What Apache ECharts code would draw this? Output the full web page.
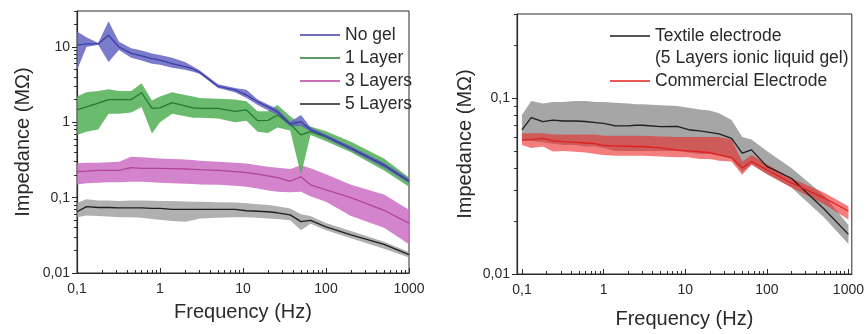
<!DOCTYPE html>
<html>
<head>
<meta charset="utf-8">
<script src="https://cdn.jsdelivr.net/npm/echarts@6/dist/echarts.min.js"></script>
<style>
  html, body { margin: 0; padding: 0; background: #fff; }
  #chart { width: 867px; height: 334px; }
</style>
</head>
<body>
<div id="chart"></div>
<script>
// frequencies (Hz), shared by every curve
const freq = [0.1, 0.13, 0.18, 0.24, 0.32, 0.45, 0.6, 0.8, 1, 1.4, 2, 2.5, 3, 5, 8, 11, 15, 20, 26, 37, 50, 65, 100, 200, 500, 1000];

// left panel: impedance (MOhm) mean / upper / lower
const noGel = [10.6, 11, 11, 14.3, 10, 8.2, 7.6, 7, 6.7, 6, 5.5, 5.1, 4.6, 3.0, 2.7, 2.3, 1.87, 1.6, 1.38, 0.95, 1.02, 0.8, 0.65, 0.45, 0.27, 0.165];
const noGelHi = [16, 13.5, 11.3, 22, 11.7, 9.6, 9, 8.2, 7.8, 7.2, 6.3, 5.5, 4.9, 3.2, 2.85, 2.7, 2.0, 1.72, 1.5, 1.02, 1.25, 0.86, 0.69, 0.48, 0.29, 0.18];
const noGelLo = [4.9, 10, 10.7, 6.3, 9.1, 7.2, 6.6, 6.0, 5.8, 5.3, 5.0, 4.7, 4.4, 2.85, 2.5, 2.1, 1.7, 1.45, 1.25, 0.88, 0.9, 0.75, 0.61, 0.42, 0.25, 0.155];

const layer1 = [1.46, 1.6, 1.8, 2.0, 2.0, 2.0, 2.47, 1.53, 1.55, 1.82, 1.65, 1.55, 1.53, 1.53, 1.4, 1.46, 1.05, 1.06, 1.25, 0.95, 0.68, 0.75, 0.64, 0.45, 0.27, 0.165];
const layer1Hi = [2.2, 2.5, 2.6, 2.75, 2.6, 2.6, 3.3, 1.95, 2.2, 2.5, 2.3, 2.2, 2.1, 2.05, 2.0, 1.9, 1.4, 1.4, 1.7, 1.2, 0.95, 0.88, 0.76, 0.55, 0.33, 0.185];
const layer1Lo = [0.68, 0.75, 0.8, 1.3, 1.3, 1.35, 1.6, 0.71, 1.0, 1.3, 1.2, 1.15, 1.15, 1.12, 1.0, 1.05, 0.75, 0.72, 0.85, 0.78, 0.2, 0.68, 0.56, 0.4, 0.23, 0.14];

const layer3 = [0.222, 0.225, 0.23, 0.23, 0.23, 0.25, 0.245, 0.245, 0.245, 0.243, 0.24, 0.238, 0.235, 0.23, 0.222, 0.215, 0.205, 0.195, 0.185, 0.165, 0.19, 0.148, 0.127, 0.1, 0.068, 0.046];
const layer3Hi = [0.286, 0.29, 0.29, 0.295, 0.3, 0.35, 0.345, 0.335, 0.33, 0.325, 0.32, 0.315, 0.31, 0.3, 0.29, 0.285, 0.27, 0.258, 0.25, 0.24, 0.27, 0.245, 0.205, 0.148, 0.11, 0.069];
const layer3Lo = [0.15, 0.155, 0.158, 0.16, 0.16, 0.163, 0.163, 0.16, 0.158, 0.155, 0.153, 0.152, 0.15, 0.148, 0.144, 0.14, 0.132, 0.124, 0.12, 0.118, 0.12, 0.104, 0.088, 0.057, 0.04, 0.024];

const layer5 = [0.065, 0.076, 0.074, 0.074, 0.073, 0.073, 0.073, 0.072, 0.072, 0.07, 0.07, 0.07, 0.07, 0.07, 0.07, 0.067, 0.066, 0.065, 0.063, 0.059, 0.048, 0.05, 0.041, 0.032, 0.024, 0.0175];
const layer5Hi = [0.085, 0.095, 0.092, 0.092, 0.09, 0.092, 0.092, 0.091, 0.09, 0.09, 0.089, 0.088, 0.088, 0.087, 0.086, 0.084, 0.082, 0.08, 0.077, 0.072, 0.06, 0.057, 0.046, 0.036, 0.026, 0.019];
const layer5Lo = [0.055, 0.058, 0.057, 0.056, 0.055, 0.055, 0.054, 0.052, 0.051, 0.049, 0.048, 0.05, 0.053, 0.054, 0.055, 0.055, 0.054, 0.053, 0.052, 0.05, 0.037, 0.045, 0.037, 0.029, 0.021, 0.016];

// right panel
const textile = [0.0658, 0.0773, 0.0733, 0.0748, 0.074, 0.074, 0.0735, 0.0725, 0.0717, 0.0695, 0.0695, 0.07, 0.07, 0.0687, 0.069, 0.066, 0.065, 0.0638, 0.0625, 0.059, 0.0486, 0.0507, 0.0409, 0.035, 0.0235, 0.0168];
const textileHi = [0.08, 0.096, 0.093, 0.095, 0.095, 0.096, 0.096, 0.095, 0.095, 0.094, 0.093, 0.092, 0.092, 0.091, 0.09, 0.088, 0.086, 0.085, 0.082, 0.075, 0.06, 0.058, 0.05, 0.04, 0.028, 0.019];
const textileLo = [0.058, 0.057, 0.056, 0.055, 0.054, 0.054, 0.053, 0.053, 0.052, 0.05, 0.05, 0.05, 0.05, 0.05, 0.05, 0.049, 0.048, 0.048, 0.047, 0.045, 0.038, 0.042, 0.037, 0.031, 0.021, 0.0148];

const commercial = [0.0577, 0.058, 0.059, 0.057, 0.0565, 0.056, 0.0555, 0.055, 0.0537, 0.0535, 0.0532, 0.053, 0.053, 0.052, 0.0505, 0.05, 0.0495, 0.049, 0.0475, 0.046, 0.04, 0.0436, 0.0391, 0.0329, 0.0271, 0.0228];
const commercialHi = [0.063, 0.063, 0.063, 0.062, 0.062, 0.062, 0.062, 0.062, 0.061, 0.061, 0.061, 0.061, 0.061, 0.0605, 0.06, 0.06, 0.06, 0.06, 0.06, 0.058, 0.0436, 0.0475, 0.042, 0.035, 0.029, 0.0243];
const commercialLo = [0.054, 0.052, 0.053, 0.0497, 0.05, 0.0495, 0.049, 0.048, 0.0475, 0.047, 0.047, 0.047, 0.047, 0.0465, 0.046, 0.046, 0.045, 0.045, 0.044, 0.0436, 0.0366, 0.0417, 0.037, 0.031, 0.025, 0.0204];

const leftLegend = ['No gel', '1 Layer', '3 Layers', '5 Layers'];
const rightLegend = ['Textile electrode', 'Commercial Electrode'];

// minor tick positions, in log10 units (for the hidden linear tick axes)
function minorLogs(fromExp, toExp) {
  const out = [];
  for (let e = fromExp; e < toExp; e++) {
    for (let m = 2; m <= 9; m++) out.push(e + Math.log10(m));
  }
  return out;
}

const FONT = "'Liberation Sans', Arial, sans-serif";
const INK = '#2a2a2a';

const chart = echarts.init(document.getElementById('chart'));

function pts(ys) {
  return freq.map((f, i) => [f, ys[i]]);
}

function band(name, lo, hi, fill, idx) {
  return {
    type: 'custom',
    name: name,
    xAxisIndex: idx,
    yAxisIndex: idx,
    silent: true,
    data: freq.map((f, i) => [f, lo[i], hi[i]]),
    encode: { x: 0, y: [1, 2] },
    renderItem: function (params, api) {
      if (params.dataIndex !== 0) return null;
      const poly = [];
      for (let i = 0; i < freq.length; i++) poly.push(api.coord([freq[i], hi[i]]));
      for (let i = freq.length - 1; i >= 0; i--) poly.push(api.coord([freq[i], lo[i]]));
      return { type: 'polygon', shape: { points: poly }, style: { fill: fill } };
    }
  };
}

function line(name, ys, color, idx) {
  return {
    type: 'line',
    name: name,
    xAxisIndex: idx,
    yAxisIndex: idx,
    data: pts(ys),
    symbol: 'none',
    lineStyle: { color: color, width: 1.3 },
    itemStyle: { color: color },
    silent: true
  };
}

const comma = v => String(+v.toPrecision(6)).replace('.', ',');

function logX(grid, min, max) {
  return {
    type: 'log', logBase: 10, gridIndex: grid, min: min, max: max,
    name: 'Frequency (Hz)', nameLocation: 'middle', nameGap: grid === 0 ? 29 : 35,
    nameTextStyle: { fontFamily: FONT, fontSize: 20, color: INK },
    axisLine: { onZero: false, lineStyle: { color: INK, width: 1.2 } },
    axisTick: { inside: true, length: 5, lineStyle: { color: INK } },
    axisLabel: { fontFamily: FONT, fontSize: 14, color: INK, margin: 9,
      showMinLabel: min === 0.1, showMaxLabel: max === 1000, formatter: comma },
    splitLine: { show: false }
  };
}

function logY(grid, min, max) {
  return {
    type: 'log', logBase: 10, gridIndex: grid, min: min, max: max,
    name: 'Impedance (MΩ)', nameLocation: 'middle', nameGap: grid === 0 ? 44 : 42,
    nameTextStyle: { fontFamily: FONT, fontSize: 20, color: INK },
    axisLine: { onZero: false, lineStyle: { color: INK, width: 1.2 } },
    axisTick: { length: 5, lineStyle: { color: INK } },
    axisLabel: { fontFamily: FONT, fontSize: 14, color: INK, margin: 7,
      showMaxLabel: false, formatter: comma },
    splitLine: { show: false }
  };
}

function minorAxis(kind, grid, min, max, values) {
  return {
    type: 'value', gridIndex: grid, min: min, max: max,
    position: kind === 'x' ? 'bottom' : 'left',
    axisLine: { show: false, onZero: false },
    axisLabel: { show: false },
    splitLine: { show: false },
    axisTick: { show: true, inside: kind === 'x', length: 3, customValues: values,
      lineStyle: { color: INK } }
  };
}

const legendText = { fontFamily: FONT, fontSize: 17.5, color: INK, lineHeight: 18 };

const option = {
  backgroundColor: '#fff',
  animation: false,
  grid: [
    { left: 77, top: 11, width: 332, height: 262, show: true, borderColor: INK, borderWidth: 1 },
    { left: 517, top: 14, width: 336, height: 263, show: true, borderColor: INK, borderWidth: 1 }
  ],
  xAxis: [
    logX(0, 0.1, 1000),
    logX(1, 0.087, 1100),
    minorAxis('x', 0, -1, 3, minorLogs(-1, 3)),
    minorAxis('x', 1, Math.log10(0.087), Math.log10(1100), minorLogs(-1, 3))
  ],
  yAxis: [
    logY(0, 0.01, 30),
    logY(1, 0.01, 0.3),
    minorAxis('y', 0, -2, Math.log10(30), minorLogs(-2, 2)),
    minorAxis('y', 1, -2, Math.log10(0.3), minorLogs(-2, 0))
  ],
  legend: [
    {
      data: leftLegend, orient: 'vertical', left: 295, top: 21,
      icon: 'rect', itemWidth: 40, itemHeight: 1.6, itemGap: 5, selectedMode: false,
      textStyle: legendText
    },
    {
      data: rightLegend, orient: 'vertical', left: 605, top: 22,
      icon: 'rect', itemWidth: 40, itemHeight: 1.6, itemGap: 27, selectedMode: false,
      textStyle: legendText
    }
  ],
  graphic: [
    { type: 'text', x: 655, y: 58, silent: true,
      style: { text: '(5 Layers ionic liquid gel)', font: '17.5px ' + FONT, fill: INK, verticalAlign: 'middle' } }
  ],
  series: [
    band('5 Layers band', layer5Lo, layer5Hi, 'rgba(150,150,150,0.75)', 0),
    band('3 Layers band', layer3Lo, layer3Hi, 'rgba(205,110,195,0.85)', 0),
    band('1 Layer band', layer1Lo, layer1Hi, 'rgba(80,175,85,0.85)', 0),
    band('No gel band', noGelLo, noGelHi, 'rgba(100,100,195,0.85)', 0),
    line('5 Layers', layer5, '#1e1e1e', 0),
    line('3 Layers', layer3, '#b2429c', 0),
    line('1 Layer', layer1, '#237a35', 0),
    line('No gel', noGel, '#3d3da6', 0),

    band('Textile band', textileLo, textileHi, 'rgba(150,150,150,0.85)', 1),
    band('Commercial band', commercialLo, commercialHi, 'rgba(235,40,40,0.6)', 1),
    line('Textile electrode', textile, '#1e1e1e', 1),
    line('Commercial Electrode', commercial, '#e0201e', 1)
  ]
};

chart.setOption(option);
</script>
</body>
</html>
